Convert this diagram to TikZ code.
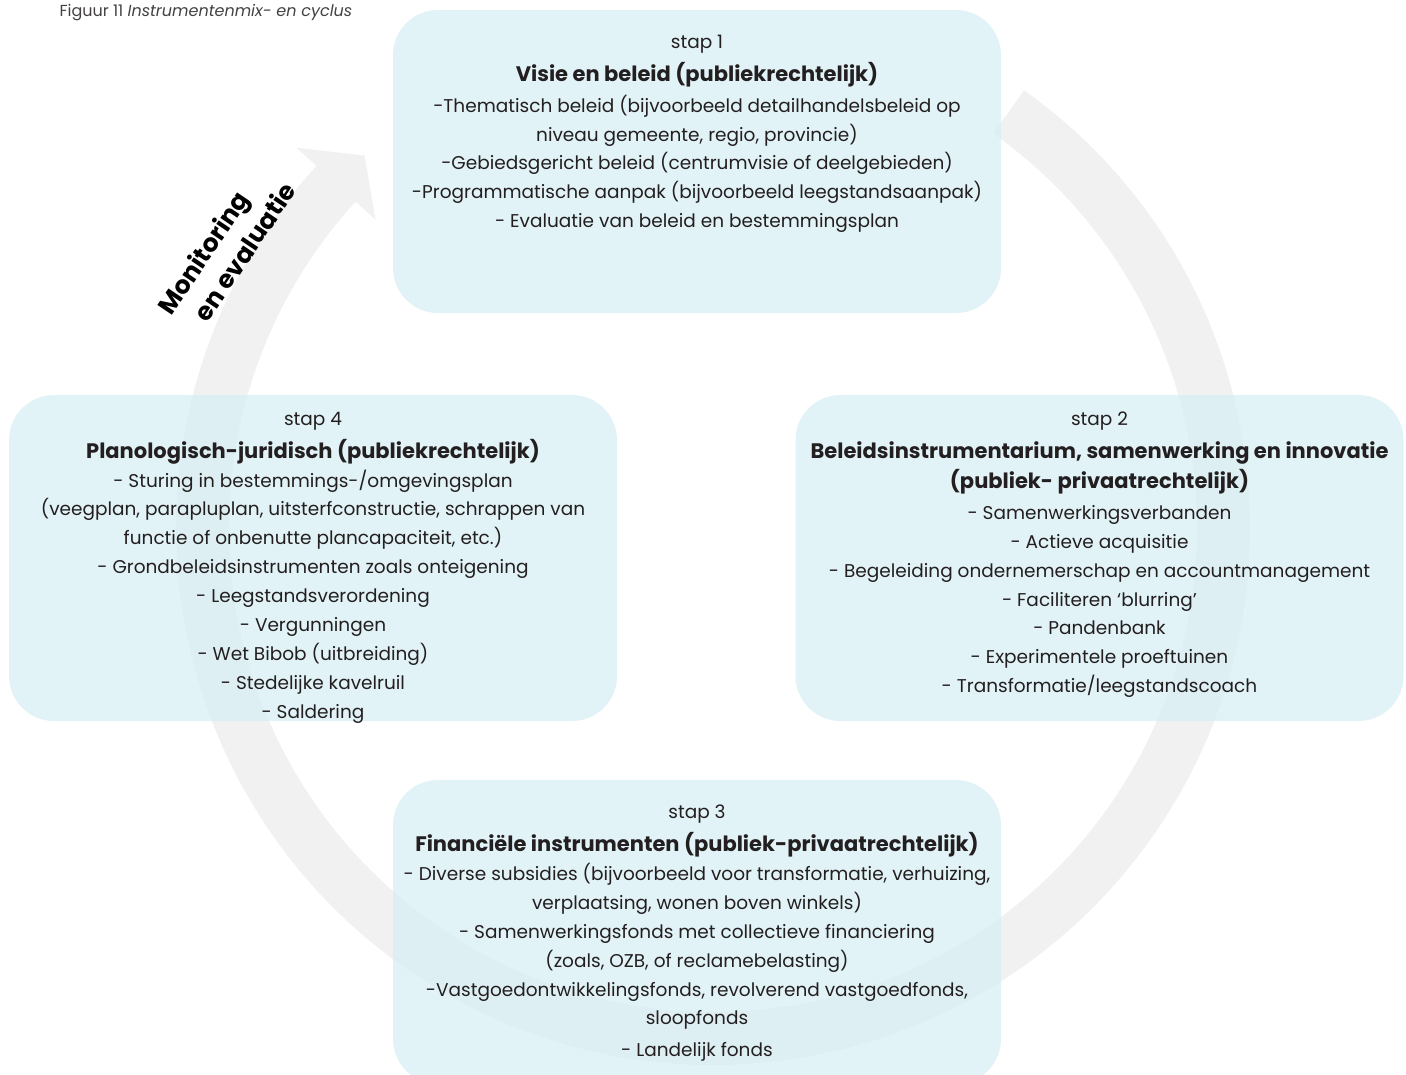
\documentclass[tikz,border=0pt]{standalone}
\usepackage{fontspec}
\setmainfont{Poppins}
\usetikzlibrary{positioning}
\definecolor{boxfill}{RGB}{216,239,245}
\definecolor{cyclegray}{RGB}{241,241,241}
\definecolor{inkgray}{RGB}{35,31,32}
\newcommand{\stapkop}[1]{{\fontsize{21}{28.9}\selectfont\bfseries #1}}

\begin{document}
\begin{tikzpicture}[x=1pt,y=-1pt,
  stapbox/.style={rectangle,rounded corners=45pt,fill=boxfill,fill opacity=0.75,
    minimum width=608pt,inner sep=0pt},
  staptext/.style={align=center,text=inkgray,inner sep=0pt,
    font=\fontsize{18.5}{28.9}\selectfont},
  ]
\useasboundingbox (0,0) rectangle (1406,1074);
\fill[cyclegray,shift={(713,528)}] (-54.6:537) arc[start angle=-54.6,end angle=222.4,radius=537]
  -- (222.4:564) -- (226.9:510) -- (222.4:457) -- (222.4:484)
  arc[start angle=222.4,end angle=-54.6,radius=484] -- cycle;
\node[anchor=west,text=inkgray!85,font=\fontsize{16}{18}\selectfont] (caption) at (56,13)
  {Figuur 11 \textit{Instrumentenmix- en cyclus}};
\node[rotate=56,align=left,text=black,font=\bfseries\fontsize{25}{34}\selectfont] (monitor) at (226,248)
  {Monitoring\\\hspace*{15pt}en evaluatie};
\node[stapbox,minimum height=303pt] (visie) at (697,161.5) {};
\node[stapbox,minimum height=326pt] (beleid) at (1099.5,558) {};
\node[stapbox,minimum height=304pt] (financieel) at (697,932) {};
\node[stapbox,minimum height=326pt] (planologisch) at (313,558) {};
\node[staptext,below=25pt of visie.north] (visietext) {stap 1\\[4pt]
  \stapkop{Visie en beleid (publiekrechtelijk)}\\[2pt]
  -Thematisch beleid (bijvoorbeeld detailhandelsbeleid op\\
  niveau gemeente, regio, provincie)\\
  -Gebiedsgericht beleid (centrumvisie of deelgebieden)\\
  -Programmatische aanpak (bijvoorbeeld leegstandsaanpak)\\
  - Evaluatie van beleid en bestemmingsplan};
\node[staptext,below=17pt of beleid.north] (beleidtext) {stap 2\\[4pt]
  \stapkop{Beleidsinstrumentarium, samenwerking en innovatie}\\[1pt]
  \stapkop{(publiek- privaatrechtelijk)}\\[2pt]
  - Samenwerkingsverbanden\\
  - Actieve acquisitie\\
  - Begeleiding ondernemerschap en accountmanagement\\
  - Faciliteren ‘blurring’\\
  - Pandenbank\\
  - Experimentele proeftuinen\\
  - Transformatie/leegstandscoach};
\node[staptext,below=25pt of financieel.north] (financieeltext) {stap 3\\[4pt]
  \stapkop{Financiële instrumenten (publiek-privaatrechtelijk)}\\
  - Diverse subsidies (bijvoorbeeld voor transformatie, verhuizing,\\
  verplaatsing, wonen boven winkels)\\
  - Samenwerkingsfonds met collectieve financiering\\
  (zoals, OZB, of reclamebelasting)\\
  -Vastgoedontwikkelingsfonds, revolverend vastgoedfonds,\\
  sloopfonds\\[3pt]
  - Landelijk fonds};
\node[staptext,below=17pt of planologisch.north] (planologischtext) {stap 4\\[4pt]
  \stapkop{Planologisch-juridisch (publiekrechtelijk)}\\
  - Sturing in bestemmings-/omgevingsplan\\
  (veegplan, parapluplan, uitsterfconstructie, schrappen van\\
  functie of onbenutte plancapaciteit, etc.)\\
  - Grondbeleidsinstrumenten zoals onteigening\\
  - Leegstandsverordening\\
  - Vergunningen\\
  - Wet Bibob (uitbreiding)\\
  - Stedelijke kavelruil\\
  - Saldering};
\end{tikzpicture}
\end{document}
